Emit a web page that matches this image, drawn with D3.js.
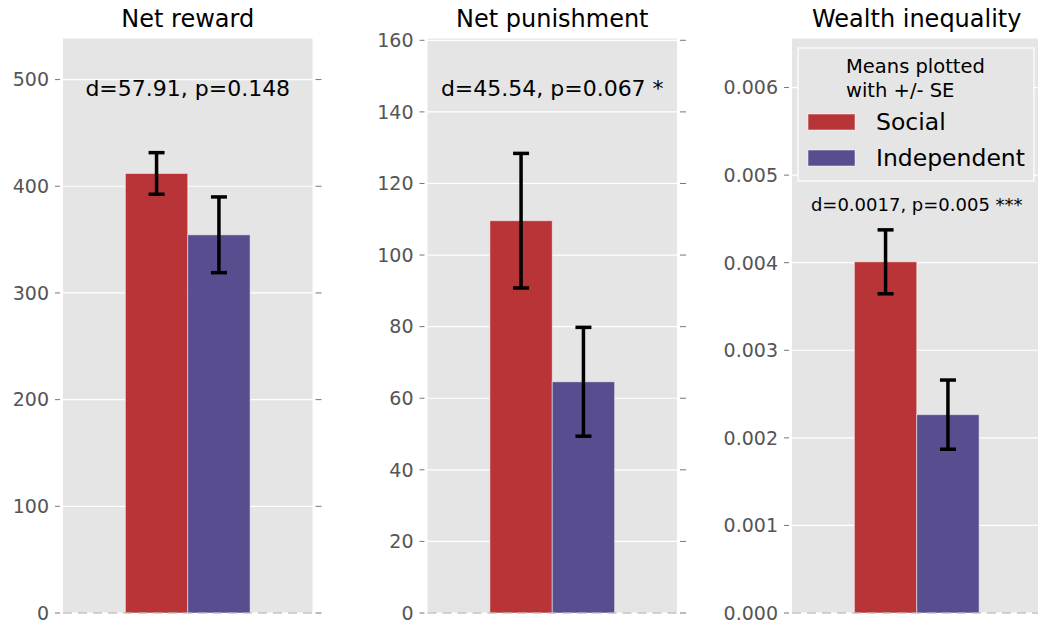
<html>
  <head>
    <style>
      body { margin: 0; background: #ffffff; }
      text { font-family: "DejaVu Sans", sans-serif; }
      .tick-label { fill: #555555; font-size: 19px; }
      .title { fill: #000000; font-size: 24px; }
    </style>
  </head>
  <body>
    <div id="main"><svg></svg></div>
    <script src="https://d3js.org/d3.v7.min.js"></script>
    <script>
      // values
      var panelTitles = ["Net reward", "Net punishment", "Wealth inequality"];
      var socialMeans = [412, 109.6, 0.00401];
      var socialSE = [19.5, 18.8, 0.000365];
      var independentMeans = [354.5, 64.6, 0.002265];
      var independentSE = [35.5, 15.2, 0.000395];
      var annotations = ["d=57.91, p=0.148", "d=45.54, p=0.067 *", "d=0.0017, p=0.005 ***"];
      var yMax = [538.5, 160.5, 0.00656];
      var yTicks = [
        [0, 100, 200, 300, 400, 500],
        [0, 20, 40, 60, 80, 100, 120, 140, 160],
        [0, 0.001, 0.002, 0.003, 0.004, 0.005, 0.006]
      ];
      var tickFormats = ["d", "d", ".3f"];
      var groups = ["Social", "Independent"];
      var legendTitle = ["Means plotted", "with +/- SE"];

      var colors = {Social: "#b83436", Independent: "#574d8f"};
      var width = 1038, height = 626;
      var plotW = 249.5, plotTop = 38.5, plotBottom = 613;
      var plotLefts = [63, 427.5, 792];
      var annotFrac = [0.9, 0.9, 0.7];
      var annotSize = [22, 22, 18];

      var svg = d3.select("#main svg").attr("width", width).attr("height", height);

      panelTitles.forEach(function(title, i) {
        var left = plotLefts[i];
        var g = svg.append("g").attr("transform", "translate(" + left + ",0)");
        var x = d3.scaleLinear().domain([0, 4]).range([0, plotW]);
        var y = d3.scaleLinear().domain([0, yMax[i]]).range([plotBottom, plotTop]);
        var fmt = d3.format(tickFormats[i]);

        g.append("rect")
          .attr("x", 0).attr("y", plotTop)
          .attr("width", plotW).attr("height", plotBottom - plotTop)
          .attr("fill", "#e5e5e5");

        // grid
        g.selectAll(".grid").data(yTicks[i]).enter().append("line")
          .attr("x1", 0).attr("x2", plotW)
          .attr("y1", function(d) { return y(d); })
          .attr("y2", function(d) { return y(d); })
          .attr("stroke", "#ffffff").attr("stroke-width", 1.2);

        // ticks left and right
        g.selectAll(".tl").data(yTicks[i]).enter().append("line")
          .attr("x1", -8).attr("x2", -3)
          .attr("y1", function(d) { return y(d); })
          .attr("y2", function(d) { return y(d); })
          .attr("stroke", "#777777").attr("stroke-width", 1);
        g.selectAll(".tr").data(yTicks[i]).enter().append("line")
          .attr("x1", plotW + 3).attr("x2", plotW + 9)
          .attr("y1", function(d) { return y(d); })
          .attr("y2", function(d) { return y(d); })
          .attr("stroke", "#777777").attr("stroke-width", 1);
        g.selectAll(".tick-label").data(yTicks[i]).enter().append("text")
          .attr("class", "tick-label")
          .attr("x", -14)
          .attr("y", function(d) { return y(d); })
          .attr("dy", "0.36em")
          .attr("text-anchor", "end")
          .text(function(d) { return fmt(d); });

        // bars
        var rows = [
          {name: "Social", mean: socialMeans[i], se: socialSE[i], pos: 1},
          {name: "Independent", mean: independentMeans[i], se: independentSE[i], pos: 2}
        ];
        g.selectAll(".bar").data(rows).enter().append("rect")
          .attr("x", function(d) { return x(d.pos); })
          .attr("y", function(d) { return y(d.mean); })
          .attr("width", x(1) - x(0))
          .attr("height", function(d) { return y(0) - y(d.mean); })
          .attr("fill", function(d) { return colors[d.name]; })
          .attr("stroke", "rgba(255,255,255,0.5)").attr("stroke-width", 1);

        // zero line
        g.append("line")
          .attr("x1", 0).attr("x2", plotW)
          .attr("y1", y(0)).attr("y2", y(0))
          .attr("stroke", "#b8b8b8").attr("stroke-width", 1.5)
          .attr("stroke-dasharray", "9,6").attr("opacity", 0.8);

        // error bars
        var eb = g.selectAll(".err").data(rows).enter().append("g");
        eb.append("line")
          .attr("x1", function(d) { return x(d.pos + 0.5); })
          .attr("x2", function(d) { return x(d.pos + 0.5); })
          .attr("y1", function(d) { return y(d.mean - d.se); })
          .attr("y2", function(d) { return y(d.mean + d.se); })
          .attr("stroke", "#000").attr("stroke-width", 3.5);
        [-1, 1].forEach(function(s) {
          eb.append("line")
            .attr("x1", function(d) { return x(d.pos + 0.5) - 8; })
            .attr("x2", function(d) { return x(d.pos + 0.5) + 8; })
            .attr("y1", function(d) { return y(d.mean + s * d.se); })
            .attr("y2", function(d) { return y(d.mean + s * d.se); })
            .attr("stroke", "#000").attr("stroke-width", 3.5);
        });

        g.append("text").attr("class", "title")
          .attr("x", plotW / 2).attr("y", 27)
          .attr("text-anchor", "middle").text(title);

        g.append("text")
          .attr("x", plotW / 2).attr("y", y(yMax[i] * annotFrac[i]))
          .attr("text-anchor", "middle")
          .attr("font-size", annotSize[i])
          .attr("fill", "#000")
          .text(annotations[i]);
      });

      // legend
      var lg = svg.append("g").attr("transform", "translate(798,48)");
      lg.append("rect")
        .attr("x", 0).attr("y", 0).attr("width", 236).attr("height", 133)
        .attr("fill", "#e5e5e5").attr("stroke", "#ffffff").attr("stroke-width", 1.2);
      legendTitle.forEach(function(t, k) {
        lg.append("text")
          .attr("x", 48).attr("y", 25 + k * 24)
          .attr("font-size", 19.5).attr("fill", "#000")
          .text(t);
      });
      groups.forEach(function(name, k) {
        lg.append("rect")
          .attr("x", 10).attr("y", 66 + k * 36)
          .attr("width", 47).attr("height", 16)
          .attr("fill", colors[name])
          .attr("stroke", "rgba(255,255,255,0.5)").attr("stroke-width", 1);
        lg.append("text")
          .attr("x", 78).attr("y", 82 + k * 36)
          .attr("font-size", 23.5).attr("fill", "#000")
          .text(name);
      });
    </script>
  </body>
</html>
